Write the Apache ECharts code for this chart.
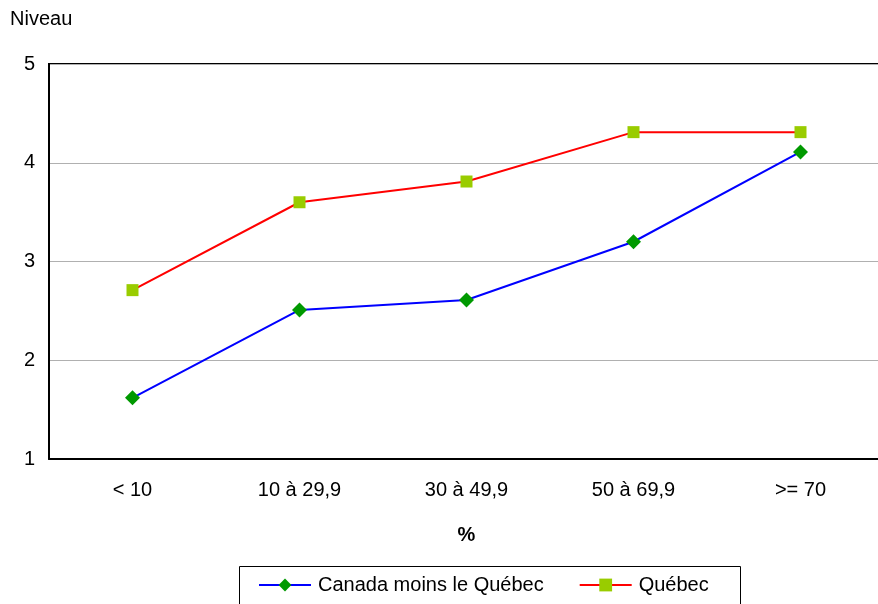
<!DOCTYPE html>
<html><head><meta charset="utf-8">
<script src="https://cdn.jsdelivr.net/npm/echarts@6/dist/echarts.min.js"></script>
<style>html,body{margin:0;padding:0;background:#fff}#c{width:878px;height:604px}</style>
</head><body><div id="c"></div>
<script>
const categories = ['< 10', '10 à 29,9', '30 à 49,9', '50 à 69,9', '>= 70'];
const canada = [1.62, 2.51, 2.61, 3.20, 4.11];
const quebec = [2.71, 3.60, 3.81, 4.31, 4.31];
const seriesNames = ['Canada moins le Québec', 'Québec'];
const FONT = '"Liberation Sans", Arial, sans-serif';
const chart = echarts.init(document.getElementById('c'), null, {renderer: 'canvas'});
chart.setOption({
  animation: false,
  textStyle: {fontFamily: FONT},
  grid: {left: 49, top: 64, width: 835, height: 395, show: false, containLabel: false, outerBoundsMode: 'none'},
  xAxis: {
    type: 'category', data: categories, boundaryGap: true,
    name: '%', nameLocation: 'middle', nameGap: 66,
    nameTextStyle: {fontFamily: FONT, fontSize: 20, fontWeight: 'bold', color: '#000'},
    axisLine: {lineStyle: {color: '#000', width: 2}},
    axisTick: {show: false},
    axisLabel: {fontFamily: FONT, fontSize: 20, color: '#000', margin: 21}
  },
  yAxis: {
    type: 'value', min: 1, max: 5, interval: 1,
    axisLine: {show: true, lineStyle: {color: '#000', width: 2}},
    axisTick: {show: false},
    axisLabel: {fontFamily: FONT, fontSize: 20, color: '#000', margin: 14},
    splitLine: {lineStyle: {color: '#b0b0b0', width: 1}}
  },
  legend: {
    left: 253, top: 570, itemWidth: 52, itemHeight: 16, itemGap: 35,
    textStyle: {fontFamily: FONT, fontSize: 20, color: '#000', padding: [0,0,0,2]},
    data: seriesNames
  },
  graphic: [
    {type: 'text', left: 10, top: 9, style: {text: 'Niveau', font: '20px ' + FONT, fill: '#000'}},
    {type: 'line', shape: {x1: 48, y1: 64, x2: 878, y2: 64}, style: {stroke: '#000', lineWidth: 2}},
    {type: 'rect', shape: {x: 239.5, y: 566.5, width: 501, height: 60}, style: {fill: 'none', stroke: '#000', lineWidth: 1}}
  ],
  series: [
    {name: seriesNames[0], type: 'line', data: canada, symbol: 'diamond', symbolSize: 15,
     lineStyle: {color: '#0000ff', width: 2}, itemStyle: {color: '#009900'}},
    {name: seriesNames[1], type: 'line', data: quebec, symbol: 'rect', symbolSize: 12,
     lineStyle: {color: '#ff0000', width: 2}, itemStyle: {color: '#99cc00'}}
  ]
});
</script></body></html>
